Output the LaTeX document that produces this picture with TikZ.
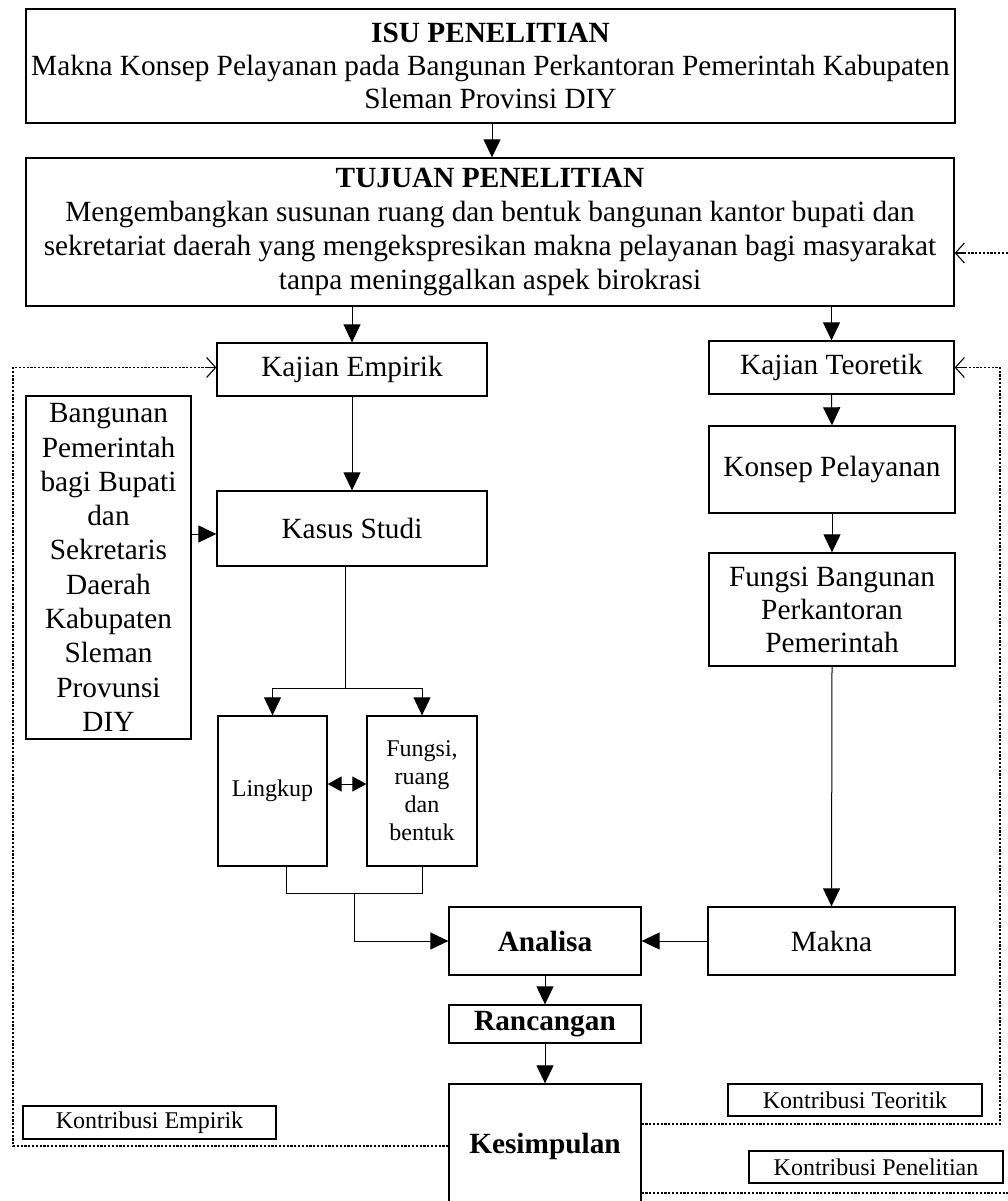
\documentclass[tikz,border=0pt]{standalone}
\usepackage{fontspec}
\setmainfont{Liberation Serif}
\usetikzlibrary{arrows.meta}
\begin{document}
\begin{tikzpicture}[x=1pt,y=-1pt,
  box/.style={draw, line width=1.3pt, rectangle, align=center, inner sep=2pt,
    font=\fontsize{29.3}{33}\selectfont},
  smallbox/.style={box, font=\fontsize{24}{28}\selectfont},
  labbox/.style={draw, line width=1.3pt, rectangle, inner sep=0pt,
    font=\fontsize{24}{28}\selectfont},
  conn/.style={line width=1pt, -{Triangle[length=18pt,width=17pt]}},
  plain/.style={line width=1pt},
  dotline/.style={line width=1.4pt, dash pattern=on 2.2pt off 1.6pt},
  barb/.style={line width=1.1pt, -{Straight Barb[length=9pt,width=20pt,line width=1.1pt]}}
]
\useasboundingbox (0,0) rectangle (1008,1201);

% main boxes
\node[box, minimum width=929pt, minimum height=114pt] (isu) at (490.5,66)
  {\textbf{ISU PENELITIAN}\\Makna Konsep Pelayanan pada Bangunan Perkantoran Pemerintah Kabupaten\\Sleman Provinsi DIY};
\node[box, minimum width=928pt, minimum height=148pt,
  font=\fontsize{29.3}{34}\selectfont] (tuj) at (490,232)
  {\textbf{TUJUAN PENELITIAN}\\Mengembangkan susunan ruang dan bentuk bangunan kantor bupati dan\\sekretariat daerah yang mengekspresikan makna pelayanan bagi masyarakat\\tanpa meninggalkan aspek birokrasi};
\node[box, minimum width=270pt, minimum height=53pt] (kemp) at (352,369.5) {Kajian Empirik};
\node[box, minimum width=245pt, minimum height=53pt] (kteo) at (831.5,367.5) {Kajian Teoretik};
\node[box, minimum width=246pt, minimum height=87pt] (kons) at (832,469.5) {Konsep Pelayanan};
\node[box, minimum width=246pt, minimum height=113pt] (fban) at (832,609.5)
  {Fungsi Bangunan\\Perkantoran\\Pemerintah};
\node[box, minimum width=165pt, minimum height=343pt,
  font=\fontsize{29.3}{34.3}\selectfont] (bang) at (108.5,567.5)
  {Bangunan\\Pemerintah\\bagi Bupati\\dan\\Sekretaris\\Daerah\\Kabupaten\\Sleman\\Provunsi\\DIY};
\node[box, minimum width=270pt, minimum height=75pt] (kas) at (352,528.5) {Kasus Studi};
\node[smallbox, minimum width=109pt, minimum height=150pt] (ling) at (272.5,791) {Lingkup};
\node[smallbox, minimum width=110pt, minimum height=150pt] (fung) at (422,791)
  {Fungsi,\\ruang\\dan\\bentuk};
\node[box, minimum width=192pt, minimum height=68pt] (ana) at (545,941) {\textbf{Analisa}};
\node[box, minimum width=247pt, minimum height=68pt] (mak) at (831.5,941) {Makna};
\node[box, minimum width=192pt, minimum height=38pt] (ran) at (545,1024) {\textbf{Rancangan}};
\node[box, minimum width=192pt, minimum height=124pt] (kes) at (545,1146) {\textbf{Kesimpulan}};

% contribution labels
\node[labbox, minimum width=253pt, minimum height=33pt] (kemb) at (149.5,1122.5) {Kontribusi Empirik};
\node[labbox, minimum width=254pt, minimum height=32pt] (kteb) at (855,1100) {Kontribusi Teoritik};
\node[labbox, minimum width=254pt, minimum height=32pt] (kpen) at (876,1167) {Kontribusi Penelitian};

% solid connectors
\draw[conn] (isu.south -| 492,0) -- (tuj.north -| 492,0);
\draw[conn] (kemp.north |- tuj.south) -- (kemp.north);
\draw[conn] (kteo.north |- tuj.south) -- (kteo.north);
\draw[conn] (kteo.south) -- (kons.north);
\draw[conn] (kons.south) -- (fban.north);
\draw[conn] (fban.south) -- (mak.north);
\draw[conn] (kemp.south) -- (kas.north);
\draw[conn] (bang.east |- 0,534) -- (kas.west |- 0,534);

\coordinate (sp) at (345,688);
\draw[plain] (sp |- kas.south) -- (sp);
\draw[conn] (sp) -| (ling.north);
\draw[conn] (sp) -| (fung.north);
\draw[line width=1pt, {Triangle[length=14pt,width=15pt]}-{Triangle[length=14pt,width=15pt]}]
  ([yshift=7pt]ling.east) -- ([yshift=7pt]fung.west);

\coordinate (mg) at (354,893);
\draw[plain] ([xshift=13.5pt]ling.south) |- (mg);
\draw[plain] (fung.south) |- (mg);
\draw[conn] (mg) |- (ana.west);
\draw[conn] (mak.west) -- (ana.east);
\draw[conn] (ana.south) -- (ran.north);
\draw[conn] (ran.south) -- (kes.north);

% dotted feedback lines (dotted path, then a solid open barb at the target)
\coordinate (le) at (13,0);
\coordinate (rt) at (1000,0);
\coordinate (rp) at (1014,0);
\draw[dotline] (kes.west) -- (kes.west -| le) |- ([yshift=2pt,xshift=-2pt]kemp.west);
\draw[barb] ([yshift=2pt,xshift=-10pt]kemp.west) -- ([yshift=2pt]kemp.west);
\draw[dotline] ([yshift=22pt]kes.east) -- ([yshift=22pt]kes.east -| rt) |- ([xshift=2pt]kteo.east);
\draw[barb] ([xshift=10pt]kteo.east) -- (kteo.east);
\draw[dotline] ([yshift=-47pt]kes.east) -- ([yshift=-47pt]kes.east -| rp) |- ([yshift=-21pt,xshift=2pt]tuj.east);
\draw[barb] ([yshift=-21pt,xshift=10pt]tuj.east) -- ([yshift=-21pt]tuj.east);
\end{tikzpicture}
\end{document}
